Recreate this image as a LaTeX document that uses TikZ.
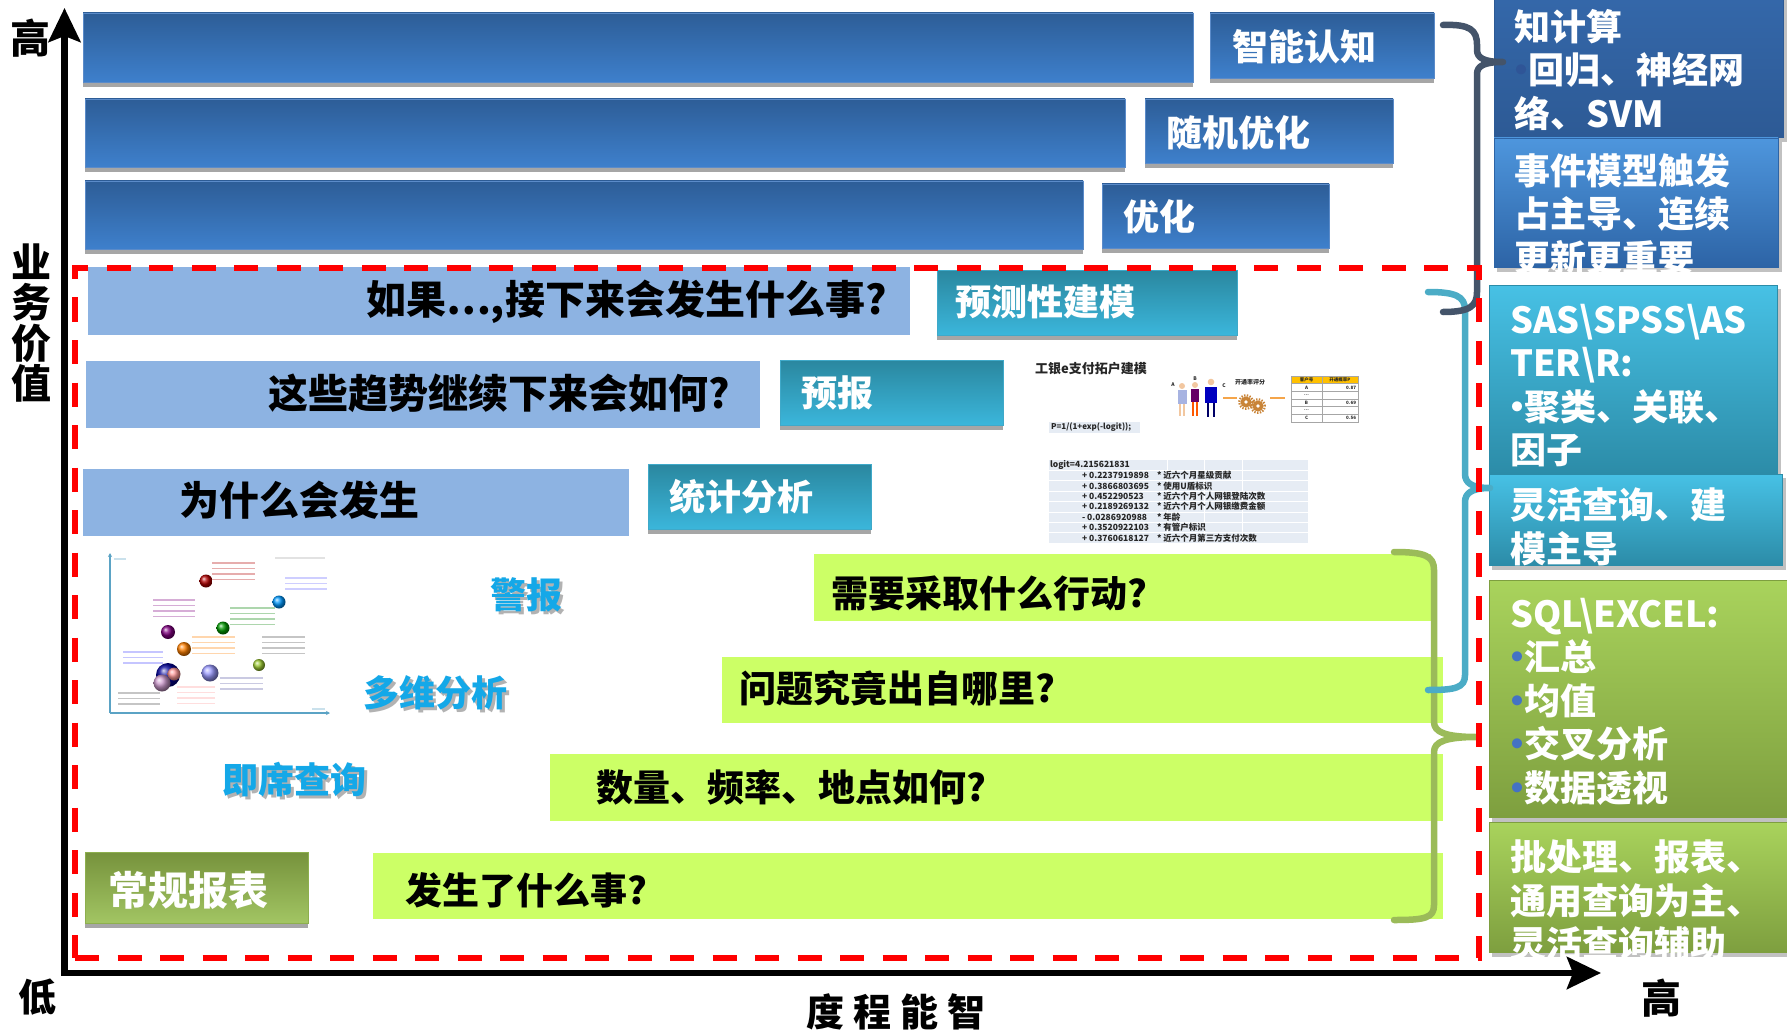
\documentclass[tikz,border=0pt]{standalone}
\usepackage{fontspec}
\setmainfont{Noto Sans CJK SC}
\usetikzlibrary{arrows.meta,fit}

\definecolor{barTop}{HTML}{2D5D97}
\definecolor{barBot}{HTML}{3E80CC}
\definecolor{barEdge}{HTML}{5B8BC9}
\definecolor{shadowgray}{HTML}{A6A6A6}
\definecolor{paleblue}{HTML}{8DB3E2}
\definecolor{tealTop}{HTML}{2A879F}
\definecolor{tealBot}{HTML}{3BB6DB}
\definecolor{tealEdge}{HTML}{3FA9C9}
\definecolor{lime}{HTML}{CCFF66}
\definecolor{oliveTop}{HTML}{76923C}
\definecolor{oliveBot}{HTML}{A2C563}
\definecolor{oliveEdge}{HTML}{8DAF4E}
\definecolor{cyanTop}{HTML}{47C1E5}
\definecolor{cyanBot}{HTML}{2C8CA8}
\definecolor{sideBlueA}{HTML}{3569AC}
\definecolor{sideBlueB}{HTML}{2D5A95}
\definecolor{sideBlueC}{HTML}{4E96DD}
\definecolor{sideBlueD}{HTML}{2D64A6}
\definecolor{greenTop}{HTML}{A9D35C}
\definecolor{greenBot}{HTML}{7E9F3F}
\definecolor{slate}{HTML}{44546A}
\definecolor{braceTeal}{HTML}{4BACC6}
\definecolor{braceGreen}{HTML}{9BBB59}
\definecolor{queryCyan}{HTML}{14A8E8}
\definecolor{dashRed}{HTML}{FF0000}
\definecolor{bulletBlue}{HTML}{4472C4}
\definecolor{bulletDark}{HTML}{2F5597}
\definecolor{gridFill}{HTML}{E6ECF4}
\definecolor{skin}{HTML}{F2C7A0}
\definecolor{gearBrown}{HTML}{C98438}
\definecolor{arrowOrange}{HTML}{F5A54A}
\definecolor{headYellow}{HTML}{FFC000}
\definecolor{chartAxis}{HTML}{5BA3C5}

\newcommand\fsz[2]{\fontsize{#1}{#2}\selectfont}
% box with a grey band underneath: name, style, x1, y1, x2, y2
\newcommand\panelbox[6]{%
  \fill[shadowgray] (#3,#6-2) rectangle (#5,#6+5);
  \node[#2, fit={(#3,#4) (#5,#6)}] (#1) {};
}
% side panel with a soft offset shadow
\newcommand\sidebox[6]{%
  \fill[shadowgray!70] (#3+3,#4+4) rectangle (#5+4,#6+5);
  \node[#2, fit={(#3,#4) (#5,#6)}] (#1) {};
}
% blurred caption lines inside the bubble chart: colour, x1, x2, y1, lines
\newcommand\capl[5]{%
  \foreach \k in {1,...,#5}{%
    \draw[#1, line width=1.7pt, opacity=.32] (#2,#4+\k*5.5-5.5) -- (#3,#4+\k*5.5-5.5);
  }%
}
\newcommand\bul[1]{\makebox[14pt][c]{\textcolor{#1}{•}}}

\begin{document}
\begin{tikzpicture}[x=1pt,y=-1pt,
  every node/.style={inner sep=0pt, outer sep=0pt},
  darkbar/.style={top color=barTop, bottom color=barBot, draw=barEdge, line width=0.8pt},
  tealbox/.style={top color=tealTop, bottom color=tealBot, draw=tealEdge, line width=0.8pt},
  olivebox/.style={top color=oliveTop, bottom color=oliveBot, draw=oliveEdge, line width=0.8pt},
  palebar/.style={fill=paleblue},
  limebar/.style={fill=lime},
  whitelbl/.style={anchor=west, text=white, font=\bfseries\fsz{#1}{#1}},
  question/.style={anchor=west, text=black, font=\bfseries\fsz{#1}{#1}},
  sidetext/.style={anchor=north west, align=left, text=white, font=\bfseries\fsz{36}{43.5}},
  querytxt/.style={text=queryCyan, font=\bfseries\fsz{36}{36}},
  queryshade/.style={text=gray!60, font=\bfseries\fsz{36}{36}},
  axislbl/.style={text=black, font=\bfseries\fsz{#1}{#1}},
  brace/.style={line width=6.5pt, line cap=round, line join=round},
  tiny/.style={font=\bfseries\fsz{#1}{#1}, text=black!85},
]
\useasboundingbox (0,0) rectangle (1787,1032);
\clip (0,0) rectangle (1787,1032);

% ---------- upper tier: dark blue bars and their labels ----------
\panelbox{bar1}{darkbar}{83}{13}{1193}{82}
\panelbox{bar2}{darkbar}{85}{99}{1125}{167}
\panelbox{bar3}{darkbar}{85}{181}{1083}{249}
\panelbox{cog}{darkbar}{1210}{13}{1434}{78}
\panelbox{stoch}{darkbar}{1145}{99}{1393}{163}
\panelbox{optim}{darkbar}{1102}{184}{1329}{248}
\node[whitelbl=36] (cogT) at (1232,47) {智能认知};
\node[whitelbl=36] (stochT) at (1166,133) {随机优化};
\node[whitelbl=36] (optimT) at (1123,217) {优化};

% ---------- middle tier: pale blue questions and teal labels ----------
\node[palebar, fit={(88,267) (910,335)}] (q1) {};
\node[palebar, fit={(86,361) (760,428)}] (q2) {};
\node[palebar, fit={(83,469) (629,536)}] (q3) {};
\panelbox{predict}{tealbox}{937}{270}{1237}{335}
\panelbox{forecast}{tealbox}{780}{360}{1003}{425}
\panelbox{stats}{tealbox}{648}{464}{871}{529}
\node[question=40] (q1T) at (366,302) {如果…,接下来会发生什么事?};
\node[question=40] (q2T) at (268,393) {这些趋势继续下来会如何?};
\node[question=40] (q3T) at (179,500) {为什么会发生};
\node[whitelbl=36] (predictT) at (955,302) {预测性建模};
\node[whitelbl=36] (forecastT) at (801,393) {预报};
\node[whitelbl=36] (statsT) at (669,497) {统计分析};

% ---------- scoring model sketch ----------
\node[tiny=13, anchor=west] (mTitle) at (1035,369) {工银e支付拓户建模};
% three customers
\fill[skin] (1182,386) circle (3pt);
\fill[cyan!35!blue!35] (1177.5,390) rectangle (1186.5,404);
\draw[skin, line width=1.6pt] (1180,404) -- (1180,416) (1184,404) -- (1184,416);
\fill[skin] (1195,385) circle (3pt);
\fill[violet!80!black] (1191,389) rectangle (1199,402);
\draw[orange!70!red, line width=1.6pt] (1193,402) -- (1193,416) (1197,402) -- (1197,416);
\fill[skin] (1211,382) circle (3.3pt);
\fill[blue!75!black] (1205,387) rectangle (1217,403);
\draw[blue!40!black, line width=2.2pt] (1208,403) -- (1208,417) (1214,403) -- (1214,417);
\node[tiny=5] (pA) at (1173,385) {A};
\node[tiny=5] (pB) at (1195,379) {B};
\node[tiny=5] (pC) at (1224,386) {C};
\node[tiny=6, anchor=west] (scoreT) at (1235,382) {开通率评分};
% scoring engine
\coordinate (gA) at (1223,398);
\coordinate (gB) at (1237,398);
\draw[arrowOrange, line width=1.2pt] (gA) -- (gB);
\draw[gearBrown, line width=2.2pt, dash pattern=on 1.4pt off 1.4pt] (1246,402) circle (6.8pt) (1258,406) circle (6.8pt);
\fill[gearBrown] (1246,402) circle (5.6pt) (1258,406) circle (5.6pt);
\fill[white] (1246,402) circle (1.8pt) (1258,406) circle (1.8pt);
\coordinate (gC) at (1270,398);
\coordinate (gD) at (1285,398);
\draw[arrowOrange, line width=1.2pt] (gC) -- (gD);
% score table
\fill[headYellow] (1291,376) rectangle (1358,383.5);
\draw[gray!70, line width=.5pt] (1291,376) rectangle (1358,422);
\foreach \yy in {383.5,391.2,398.9,406.6,414.3} \draw[gray!70, line width=.5pt] (1291,\yy) -- (1358,\yy);
\draw[gray!70, line width=.5pt] (1322,376) -- (1322,422);
\node[tiny=4.5] (th1) at (1306.5,379.8) {客户号};
\node[tiny=4.5] (th2) at (1340,379.8) {开通概率P};
\node[tiny=4.5] (ra) at (1306.5,387.4) {A};
\node[tiny=4.5, anchor=east] (rav) at (1356,387.4) {0.87};
\node[tiny=4.5] (rd1) at (1306.5,395) {...};
\node[tiny=4.5] (rb) at (1306.5,402.8) {B};
\node[tiny=4.5, anchor=east] (rbv) at (1356,402.8) {0.69};
\node[tiny=4.5] (rd2) at (1306.5,410.4) {...};
\node[tiny=4.5] (rc) at (1306.5,418.2) {C};
\node[tiny=4.5, anchor=east] (rcv) at (1356,418.2) {0.56};
% logistic formula
\fill[gridFill] (1049,422) rectangle (1140,433);
\node[tiny=8, anchor=west] (pForm) at (1051,427.5) {P=1/(1+exp(-logit));};
\fill[gridFill] (1049,460) rectangle (1308,543);
\foreach \i in {1,...,7} \draw[white, line width=.7pt] (1049,460+\i*10.375) -- (1308,460+\i*10.375);
\foreach \xx in {1167,1204,1242} \draw[white, line width=.7pt] (\xx,460) -- (\xx,543);
\node[tiny=8.5, anchor=west] (lg0) at (1050,465.2) {logit=4.215621831};
\node[tiny=8.5, anchor=west] (lg1) at (1082,475.6) {\makebox[75pt][l]{+ 0.2237919898}* 近六个月星级贡献};
\node[tiny=8.5, anchor=west] (lg2) at (1082,486.0) {\makebox[75pt][l]{+ 0.3866803695}* 使用U盾标识};
\node[tiny=8.5, anchor=west] (lg3) at (1082,496.3) {\makebox[75pt][l]{+ 0.452290523}* 近六个月个人网银登陆次数};
\node[tiny=8.5, anchor=west] (lg4) at (1082,506.7) {\makebox[75pt][l]{+ 0.2189269132}* 近六个月个人网银缴费金额};
\node[tiny=8.5, anchor=west] (lg5) at (1082,517.1) {\makebox[75pt][l]{- 0.0286920988}* 年龄};
\node[tiny=8.5, anchor=west] (lg6) at (1082,527.4) {\makebox[75pt][l]{+ 0.3520922103}* 有管户标识};
\node[tiny=8.5, anchor=west] (lg7) at (1082,537.8) {\makebox[75pt][l]{+ 0.3760618127}* 近六个月第三方支付次数};

% ---------- customer segment bubble chart ----------
\coordinate (cO) at (110,713);
\coordinate (cY) at (110,553);
\coordinate (cX) at (330,713);
\draw[chartAxis, line width=1.3pt, -{Stealth[length=4pt,width=4pt]}] (cO) -- (cY);
\draw[chartAxis, line width=1.3pt, -{Stealth[length=4pt,width=4pt]}] (cO) -- (cX);
\capl{red!70!black}{212}{255}{563}{4}
\capl{violet}{153}{195}{600}{4}
\capl{blue!60}{285}{327}{578}{3}
\capl{green!50!black}{230}{275}{608}{4}
\capl{orange}{192}{235}{637}{4}
\capl{gray!60!black}{262}{305}{637}{4}
\capl{blue!70}{123}{163}{652}{3}
\capl{black!70}{118}{160}{693}{3}
\capl{pink!80!red}{177}{215}{687}{4}
\capl{gray!70!blue}{220}{263}{678}{3}
\capl{gray!70}{275}{325}{558}{1}
\capl{chartAxis}{114}{126}{559}{1}
\capl{chartAxis}{312}{325}{709}{1}
\shade[ball color=red!70!black] (206,581) circle (6.5pt);
\shade[ball color=cyan!60!blue] (279,602) circle (6.5pt);
\shade[ball color=violet] (168,632) circle (7pt);
\shade[ball color=green!60!black] (223,628) circle (6.5pt);
\shade[ball color=orange] (184,649) circle (7pt);
\shade[ball color=green!30!yellow!60!gray] (259,665) circle (6pt);
\shade[ball color=blue!40] (210,673) circle (8.5pt);
\shade[ball color=blue!60!black] (168,675) circle (12pt);
\shade[ball color=pink!80!red] (174,674) circle (6.5pt);
\shade[ball color=violet!40] (162,683) circle (8.5pt);

% ---------- lower tier: lime questions ----------
\node[limebar, fit={(814,554) (1431,621)}] (a1) {};
\node[limebar, fit={(722,657) (1443,723)}] (a2) {};
\node[limebar, fit={(550,754) (1443,821)}] (a3) {};
\node[limebar, fit={(373,853) (1443,919)}] (a4) {};
\panelbox{report}{olivebox}{85}{852}{308}{923}
\node[question=37] (a1T) at (831,593) {需要采取什么行动?};
\node[question=37] (a2T) at (739,688) {问题究竟出自哪里?};
\node[question=37] (a3T) at (596,787) {数量、频率、地点如何?};
\node[question=37] (a4T) at (405,890) {发生了什么事?};
\node[whitelbl=40] (reportT) at (108,890) {常规报表};

% cyan analysis tags
\node[queryshade] (alertS) at (529,598) {警报};
\node[querytxt] (alert) at (526,595) {警报};
\node[queryshade] (olapS) at (438,696) {多维分析};
\node[querytxt] (olap) at (435,693) {多维分析};
\node[queryshade] (adhocS) at (297,783) {即席查询};
\node[querytxt] (adhoc) at (294,780) {即席查询};

% ---------- tool panels on the right ----------
\sidebox{sideA}{top color=sideBlueA, bottom color=sideBlueB, draw=sideBlueB, line width=.8pt}{1494}{-20}{1783}{137}
\sidebox{sideB}{top color=sideBlueC, bottom color=sideBlueD, draw=sideBlueD, line width=.8pt}{1494}{138}{1778}{267}
\sidebox{sideC}{top color=cyanTop, bottom color=cyanBot, draw=cyanBot, line width=.8pt}{1489}{285}{1777}{473}
\sidebox{sideD}{top color=cyanTop, bottom color=cyanBot, draw=cyanBot, line width=.8pt}{1489}{474}{1782}{565}
\sidebox{sideE}{top color=greenTop, bottom color=greenBot, draw=greenBot, line width=.8pt}{1489}{580}{1790}{817}
\sidebox{sideF}{top color=greenTop, bottom color=greenBot, draw=greenBot, line width=.8pt}{1489}{822}{1790}{952}
\node[sidetext] (sideAT) at (1514,9) {知计算\\\bul{bulletDark}回归、神经网\\络、SVM};
\node[sidetext] (sideBT) at (1514,153) {事件模型触发\\占主导、连续\\更新更重要};
\node[sidetext] (sideCT) at (1510,304) {SAS\textbackslash SPSS\textbackslash AS\\TER\textbackslash R:\\\bul{white}聚类、关联、\\因子};
\node[sidetext] (sideDT) at (1510,488) {灵活查询、建\\模主导};
\node[sidetext] (sideET) at (1510,598) {SQL\textbackslash EXCEL:\\\bul{bulletBlue}汇总\\\bul{bulletBlue}均值\\\bul{bulletBlue}交叉分析\\\bul{bulletBlue}数据透视};
\node[sidetext] (sideFT) at (1510,840) {批处理、报表、\\通用查询为主、\\灵活查询辅助};

% ---------- grouping braces ----------
\draw[brace, braceGreen] (1394,552) .. controls (1425,552) and (1434,556) .. (1434,570)
  -- (1434,722) .. controls (1434,732) and (1445,737) .. (1477,737)
  .. controls (1445,737) and (1434,742) .. (1434,752)
  -- (1434,905) .. controls (1434,918) and (1425,920) .. (1394,920);
\draw[brace, braceTeal] (1428,292) .. controls (1455,292) and (1465,296) .. (1465,310)
  -- (1465,474) .. controls (1465,483) and (1472,488) .. (1490,488)
  .. controls (1472,488) and (1465,493) .. (1465,502)
  -- (1465,675) .. controls (1465,688) and (1455,690) .. (1428,690);
\draw[brace, slate] (1443,25) .. controls (1470,24) and (1477,30) .. (1477,45)
  -- (1477,50) .. controls (1477,58) and (1484,62) .. (1503,62)
  .. controls (1484,62) and (1477,66) .. (1477,74)
  -- (1477,292) .. controls (1477,306) and (1470,312) .. (1443,312);

% ---------- analytics zone ----------
\node[draw=dashRed, line width=6pt, dash pattern=on 24pt off 18.5pt, fit={(75,268) (1479,958)}] (zone) {};

% ---------- axes ----------
\coordinate (O) at (64.5,973);
\coordinate (ytip) at (64.5,8);
\coordinate (xtip) at (1601,973);
\draw[line width=6.5pt, line join=miter, {Stealth[length=34pt,width=32pt,inset=6pt]}-{Stealth[length=34pt,width=32pt,inset=6pt]}] (ytip) -- (O) -- (xtip);
\node[axislbl=40] (hiY) at (30,38) {高};
\node[axislbl=40, align=center, font=\bfseries\fsz{40}{40.5}] (valueT) at (32,323) {业\\务\\价\\值};
\node[axislbl=38] (lo) at (37,997) {低};
\node[axislbl=40] (hiX) at (1661,998) {高};
\node[axislbl=38] (iqT) at (896,1012) {度\hspace{9pt}程\hspace{9pt}能\hspace{9pt}智};
\end{tikzpicture}
\end{document}
